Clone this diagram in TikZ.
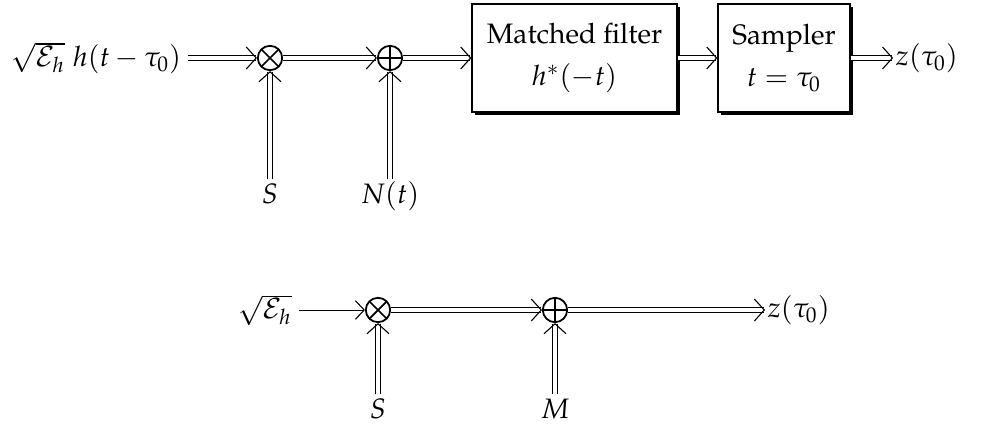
\documentclass[tikz,border=0pt]{standalone}
\usepackage[T1]{fontenc}
\usepackage{mathpazo}
\usepackage{tikz}
\usetikzlibrary{arrows.meta, shadows}
\tikzset{
  adder/.style  = {circle, draw, line width=0.8pt, minimum size=3.9mm, inner sep=0pt,
                   path picture={\draw[line width=0.8pt]
                     (path picture bounding box.north) -- (path picture bounding box.south)
                     (path picture bounding box.west) -- (path picture bounding box.east);}},
  mixer/.style  = {circle, draw, line width=0.8pt, minimum size=3.9mm, inner sep=0pt,
                   path picture={\draw[line width=0.8pt]
                     (path picture bounding box.north west) -- (path picture bounding box.south east)
                     (path picture bounding box.north east) -- (path picture bounding box.south west);}},
  block/.style  = {rectangle, draw, semithick, fill=white, align=center,
                   minimum height=17.28mm,
                   drop shadow={shadow xshift=1.4pt, shadow yshift=-1.4pt, fill=black, opacity=1}},
  sig/.style    = {-{Straight Barb[length=4.5pt, width=10pt, line width=0.5pt]}, double, double distance=1.7pt},
  plain/.style  = {-{Straight Barb[length=4pt, width=8.5pt, line width=0.5pt]}},
  lbl/.style    = {inner sep=1pt},
  src/.style    = {anchor=east, inner sep=3pt},
  feed/.style   = {anchor=north, inner sep=3pt, text height=1.7ex, text depth=.5ex},
}

\begin{document}
\begin{tikzpicture}[font=\fontsize{12.8}{15.4}\selectfont]
  \useasboundingbox (0,0) rectangle (15.824,-6.864);

  % upper chain: signal, gain, noise, receiver
  \node[src] (in) at (3.01,-0.928) {$\sqrt{\mathcal{E}_h}\;h(t-\tau_0)$};
  \node[mixer] (mul) at (4.32,-0.928) {};
  \node[adder] (add) at (6.24,-0.928) {};
  \node[block, minimum width=32.8mm] (mf) at (9.192,-0.928)
    {Matched filter\\[4pt] $h^*(-t)$};
  \node[block, minimum width=21.12mm] (smp) at (12.544,-0.928)
    {Sampler\\[4pt] $t=\tau_0$};
  \node[lbl, anchor=west] (out) at (14.29,-0.928) {$z(\tau_0)$};
  \node[feed] (s) at (4.32,-2.86) {$S$};
  \node[feed] (n) at (6.24,-2.86) {$N(t)$};
  \draw[sig] (in) -- (mul);
  \draw[sig] (mul) -- (add);
  \draw[sig] (add) -- (mf);
  \draw[sig] (mf) -- (smp);
  \draw[sig] (smp) -- (out);
  \draw[sig] (s) -- (mul);
  \draw[sig] (n) -- (add);

  % lower chain: equivalent model after sampling
  \node[src] (inb) at (4.78,-4.96) {$\sqrt{\mathcal{E}_h}$};
  \node[mixer] (mulb) at (6.048,-4.96) {};
  \node[adder] (addb) at (8.88,-4.96) {};
  \node[lbl, anchor=west] (outb) at (12.24,-4.96) {$z(\tau_0)$};
  \node[feed] (sb) at (6.048,-6.3) {$S$};
  \node[feed] (m) at (8.88,-6.3) {$M$};
  \draw[plain] (inb) -- (mulb);
  \draw[sig] (mulb) -- (addb);
  \draw[sig] (addb) -- (outb);
  \draw[sig] (sb) -- (mulb);
  \draw[sig] (m) -- (addb);
\end{tikzpicture}
\end{document}
